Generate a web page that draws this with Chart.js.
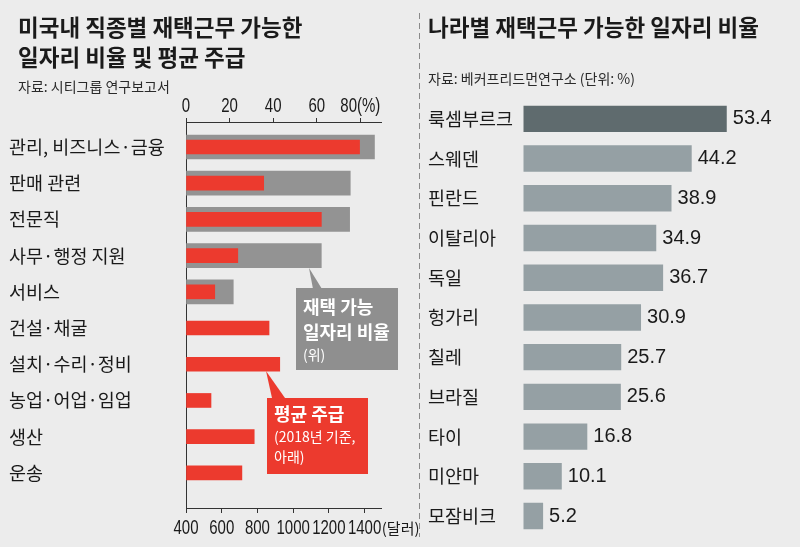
<!DOCTYPE html>
<html><head><meta charset="utf-8">
<script src="https://cdn.jsdelivr.net/npm/chart.js@4/dist/chart.umd.min.js"></script>
<style>
html,body{margin:0;padding:0;background:#ececec;}
#wrap{position:relative;width:800px;height:547px;overflow:hidden;background:#ececec;font-family:'Noto Sans CJK KR',sans-serif;color:#1a1a1a;}
.abs{position:absolute;white-space:nowrap;}
.title{font-size:22.5px;font-weight:700;line-height:30px;}
.sub{font-size:14px;color:#2a2a2a;line-height:18px;}
canvas{position:absolute;top:0;}
#c1{left:0;}
#c2{left:400px;}
#ov{position:absolute;left:0;top:0;}
.box{position:absolute;color:#fff;}
.box .b{font-weight:700;font-size:18px;line-height:25px;}
.box .s{font-size:14px;line-height:20px;}
</style></head>
<body>
<div id="wrap">
  <canvas id="c1" width="420" height="547"></canvas>
  <canvas id="c2" width="400" height="547"></canvas>
  <div class="abs title" style="left:18px;top:11px;">미국내 직종별 재택근무 가능한<br>일자리 비율 및 평균 주급</div>
  <div class="abs sub" style="left:18px;top:77px;">자료: 시티그룹 연구보고서</div>
  <div class="abs title" style="left:428px;top:11px;">나라별 재택근무 가능한 일자리 비율</div>
  <div class="abs sub" style="left:428px;top:69px;">자료: 베커프리드먼연구소 (단위: %)</div>
  <svg id="ov" width="800" height="547">
    <line x1="419.5" y1="13" x2="419.5" y2="537" stroke="#8a8a8a" stroke-width="1" stroke-dasharray="6 4"/>
    <polygon points="309,268 313,289 322,289" fill="#8f8f8f"/>
    <polygon points="266,371 272,398 285,398" fill="#ec3a2e"/>
  </svg>
  <div class="box" style="left:296px;top:288px;width:102px;height:82px;background:#8f8f8f;">
    <div style="position:absolute;left:7px;top:6px;">
      <div class="b">재택 가능</div>
      <div class="b">일자리 비율</div>
      <div class="s">(위)</div>
    </div>
  </div>
  <div class="box" style="left:267px;top:398px;width:101px;height:76px;background:#ec3a2e;">
    <div style="position:absolute;left:7px;top:3px;">
      <div class="b">평균 주급</div>
      <div class="s">(2018년 기준,</div>
      <div class="s">아래)</div>
    </div>
  </div>
</div>
<script>
// ---- data ----
const categories = ['관리, 비즈니스·금융','판매 관련','전문직','사무·행정 지원','서비스','건설·채굴','설치·수리·정비','농업·어업·임업','생산','운송'];
const remoteShare = [86.5, 75.4, 75.1, 62.1, 21.7, null, null, null, null, null];
const weeklyPay = [1372, 835, 1158, 690, 561, 865, 925, 540, 782, 713];
const shareTicks = [0, 20, 40, 60, 80];
const payTicks = [400, 600, 800, 1000, 1200, 1400];
const countries = ['룩셈부르크','스웨덴','핀란드','이탈리아','독일','헝가리','칠레','브라질','타이','미얀마','모잠비크'];
const countryShare = [53.4, 44.2, 38.9, 34.9, 36.7, 30.9, 25.7, 25.6, 16.8, 10.1, 5.2];

const numFont = "20px 'Liberation Sans',sans-serif";
const krFont = "'Noto Sans CJK KR',sans-serif";
const ink = '#1a1a1a';
const axisColor = '#333333';
const squeeze = 0.75;

function drawNums(ctx, scale, values, fmt, yMid) {
  ctx.save();
  ctx.font = numFont;
  ctx.fillStyle = ink;
  ctx.textAlign = 'center';
  ctx.textBaseline = 'middle';
  values.forEach(v => {
    const x = scale.getPixelForValue(v);
    ctx.save();
    ctx.translate(x, yMid);
    ctx.scale(squeeze, 1);
    ctx.fillText(fmt(v), 0, 0);
    ctx.restore();
  });
  ctx.restore();
}

const tickLabelPlugin = {
  id: 'tickLabels',
  afterDraw(chart) {
    const ctx = chart.ctx;
    const top = chart.scales.xTop;
    const bot = chart.scales.xBot;
    const lastShare = shareTicks[shareTicks.length - 1];
    drawNums(ctx, top, shareTicks, v => v === lastShare ? v + '(%)' : String(v), top.bottom - 15.5);
    drawNums(ctx, bot, payTicks, v => String(v), bot.top + 20);
    const last = payTicks[payTicks.length - 1];
    ctx.save();
    ctx.font = numFont;
    const w = ctx.measureText(String(last)).width * squeeze;
    ctx.font = "15px " + krFont;
    ctx.fillStyle = ink;
    ctx.textAlign = 'left';
    ctx.textBaseline = 'middle';
    ctx.fillText('(달러)', bot.getPixelForValue(last) + w / 2 + 0.5, bot.top + 20);
    ctx.restore();
  }
};

new Chart(document.getElementById('c1'), {
  type: 'bar',
  data: {
    datasets: [
      {
        label: '평균 주급',
        data: weeklyPay.map((v, i) => ({x: v, y: i})),
        xAxisID: 'xBot', yAxisID: 'y',
        backgroundColor: '#ec3a2e',
        barThickness: 14, base: 400, order: 1
      },
      {
        label: '재택 가능 일자리 비율',
        data: remoteShare.map((v, i) => ({x: v, y: i})).filter(d => d.x !== null),
        xAxisID: 'xTop', yAxisID: 'y',
        backgroundColor: '#939393',
        barThickness: 24, base: 0, order: 2
      }
    ]
  },
  options: {
    indexAxis: 'y',
    responsive: false,
    animation: false,
    layout: {padding: {left: 9, right: 39, top: 0, bottom: 0}},
    plugins: {legend: {display: false}, tooltip: {enabled: false}},
    datasets: {bar: {grouped: false}},
    scales: {
      y: {
        type: 'linear', reverse: true, offset: false, min: -0.69, max: 9.97,
        afterBuildTicks: s => { s.ticks = categories.map((c, i) => ({value: i})); },
        ticks: {callback: v => categories[Math.round(v)], crossAlign: 'far', font: {family: krFont, size: 18.5}, color: ink, padding: 0, autoSkip: false},
        grid: {display: false},
        border: {display: true, color: axisColor, width: 1},
        afterFit: s => { s.width = 177; }
      },
      xTop: {
        type: 'linear', position: 'top', offset: false, min: 0, max: 89.5,
        afterBuildTicks: s => { s.ticks = shareTicks.map(v => ({value: v})); },
        ticks: {display: false},
        grid: {drawOnChartArea: false, drawTicks: true, tickLength: 4, color: axisColor},
        border: {display: true, color: axisColor, width: 1},
        afterFit: s => { s.height = 122; }
      },
      xBot: {
        type: 'linear', position: 'bottom', offset: false, min: 400, max: 1492,
        afterBuildTicks: s => { s.ticks = payTicks.map(v => ({value: v})); },
        ticks: {display: false},
        grid: {drawOnChartArea: false, drawTicks: true, tickLength: 5, color: axisColor},
        border: {display: true, color: axisColor, width: 1},
        afterFit: s => { s.height = 39; }
      }
    }
  },
  plugins: [tickLabelPlugin]
});

const valuePlugin = {
  id: 'values',
  afterDatasetsDraw(chart) {
    const ctx = chart.ctx;
    const meta = chart.getDatasetMeta(0);
    ctx.save();
    ctx.font = "20px 'Liberation Sans',sans-serif";
    ctx.fillStyle = ink;
    ctx.textAlign = 'left';
    ctx.textBaseline = 'middle';
    meta.data.forEach((bar, i) => {
      ctx.fillText(countryShare[i].toFixed(1), bar.x + 6, bar.y);
    });
    ctx.restore();
  }
};

new Chart(document.getElementById('c2'), {
  type: 'bar',
  data: {
    labels: countries,
    datasets: [{
      data: countryShare,
      backgroundColor: countryShare.map((v, i) => i === 0 ? '#5f6b6e' : '#95a0a4'),
      categoryPercentage: 1, barPercentage: 0.665
    }]
  },
  options: {
    indexAxis: 'y',
    responsive: false,
    animation: false,
    layout: {padding: {left: 28, right: 10, top: 99, bottom: 8}},
    plugins: {legend: {display: false}, tooltip: {enabled: false}},
    scales: {
      x: {display: false, min: 0, max: 70},
      y: {
        ticks: {crossAlign: 'far', font: {family: krFont, size: 18.5}, color: ink, padding: 0, autoSkip: false},
        grid: {display: false},
        border: {display: false},
        afterFit: s => { s.width = 95.3; }
      }
    }
  },
  plugins: [valuePlugin]
});
</script>
</body></html>
